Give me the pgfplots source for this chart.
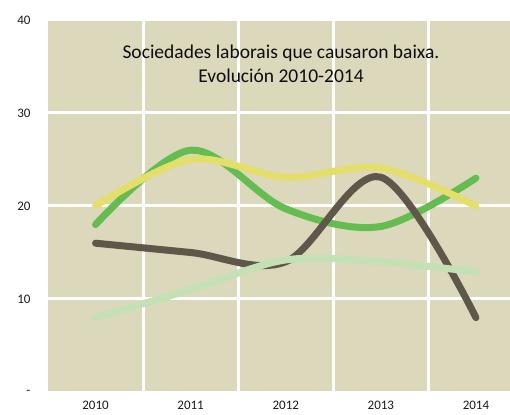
\documentclass[border=0pt]{standalone}
\usepackage{pgfplots}
\pgfplotsset{compat=1.18}
\usepackage{fontspec}
\setmainfont{Carlito}
\definecolor{bgtan}{RGB}{220,216,188}
\definecolor{sgreen}{RGB}{101,189,82}
\definecolor{syellow}{RGB}{228,222,107}
\definecolor{sdark}{RGB}{94,87,74}
\definecolor{slight}{RGB}{195,225,181}
\begin{document}
\begin{tikzpicture}
\useasboundingbox (0,0) rectangle (510pt,414pt);
\begin{axis}[
  at={(48pt,22pt)}, anchor=south west,
  x=95.1pt, y=9.3pt,
  xmin=-0.5, xmax=4.357, ymin=0, ymax=40,
  axis background/.style={fill=bgtan},
  axis line style={draw=none},
  major tick length=0pt, minor tick length=0pt,
  xtick={0,1,2,3,4},
  xticklabels={2010,2011,2012,2013,2014},
  minor xtick={0.5,1.5,2.5,3.5},
  ytick={0,10,20,30,40},
  yticklabels={-,10,20,30,40},
  xmajorgrids=false, xminorgrids=true, ymajorgrids=true,
  minor grid style={white, line width=3pt},
  major grid style={white, line width=3pt},
  ticklabel style={font=\fontsize{13}{15}\selectfont, text=black!90},
  xticklabel style={yshift=-6pt},
  yticklabel style={xshift=-14pt},
  clip=true,
  every axis plot/.append style={line width=7pt, line cap=round, line join=round, smooth, tension=0.55},
]
\addplot[sgreen] coordinates {(0,18) (1,26) (2,19.7) (3,17.8) (4,23)};
\addplot[syellow] coordinates {(0,20) (1,25) (2,23.1) (3,24.1) (4,20)};
\addplot[sdark] coordinates {(0,16) (1,15) (2,14) (3,23.1) (4,8)};
\addplot[slight] coordinates {(0,8) (1,11) (2,14.2) (3,14) (4,12.9)};
\node[align=center, font=\fontsize{19.5}{24}\selectfont, text=black!95] at (axis cs:1.95,35.25) {Sociedades laborais que causaron baixa.\\Evolución 2010-2014};
\end{axis}
\end{tikzpicture}
\end{document}
